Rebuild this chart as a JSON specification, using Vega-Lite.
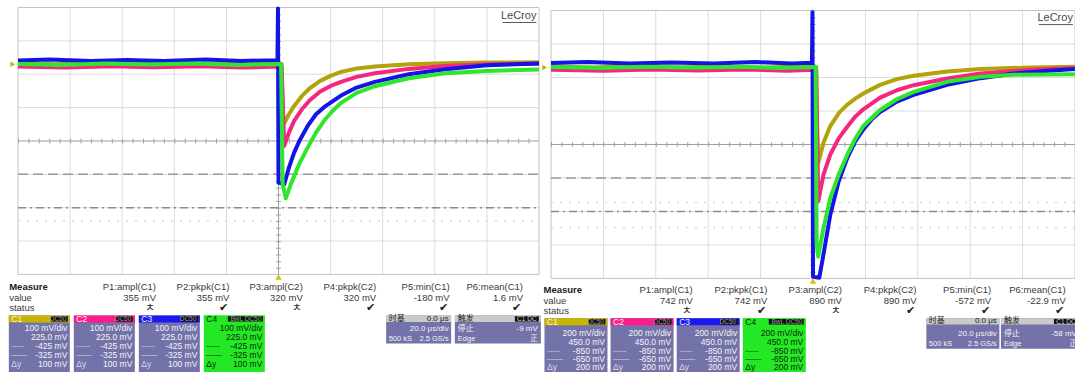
{
"$schema":"https://vega.github.io/schema/vega-lite/v6.json",
"background":"white",
"padding":{"left":8,"top":4.5,"right":0,"bottom":0},
"autosize":{"type":"pad"},
"bounds":"flush",
"spacing":12,
"config":{"view":{"stroke":null},"axis":{"disable":true},"legend":{"disable":true},"text":{"font":"Liberation Sans, Noto Sans CJK SC","fontSize":9.5,"color":"#3a3a3a"}},
"datasets":{
"one":[{"k":1}],
"brand":[{"b":"LeCroy"}],
"hdr":[{"a":"Measure","b":"value","c":"status"}],
"gridV":[{"g":-4},{"g":-3},{"g":-2},{"g":-1},{"g":1},{"g":2},{"g":3},{"g":4}],
"gridH":[{"g":-3},{"g":-2},{"g":-1},{"g":1},{"g":2},{"g":3}],
"curL":[{"v":-1,"k":"dash"},{"v":-2,"k":"dashdot"},{"v":-2.4,"k":"dot"}],
"curR":[{"v":-1,"k":"dash"},{"v":-2,"k":"dashdot"},{"v":-1.73,"k":"dot"},{"v":-2.48,"k":"dot"}],
"measL":[{"n":1,"p":"P1:ampl(C1)","v":"355 mV","s":"ㅊ"},{"n":2,"p":"P2:pkpk(C1)","v":"355 mV","s":"✔"},{"n":3,"p":"P3:ampl(C2)","v":"320 mV","s":"ㅊ"},{"n":4,"p":"P4:pkpk(C2)","v":"320 mV","s":"✔"},{"n":5,"p":"P5:min(C1)","v":"-180 mV","s":"✔"},{"n":6,"p":"P6:mean(C1)","v":"1.6 mV","s":"✔"}],
"measR":[{"n":1,"p":"P1:ampl(C1)","v":"742 mV","s":"ㅊ"},{"n":2,"p":"P2:pkpk(C1)","v":"742 mV","s":"✔"},{"n":3,"p":"P3:ampl(C2)","v":"890 mV","s":"ㅊ"},{"n":4,"p":"P4:pkpk(C2)","v":"890 mV","s":"✔"},{"n":5,"p":"P5:min(C1)","v":"-572 mV","s":"✔"},{"n":6,"p":"P6:mean(C1)","v":"-22.9 mV","s":"✔"}],
"chL":[{"n":1,"ch":"C1","cpl":"DC50","vdiv":"100 mV/div","offs":"225.0 mV","c1":"-425 mV","c2":"-325 mV","dy":"100 mV"},{"n":2,"ch":"C2","cpl":"DC50","vdiv":"100 mV/div","offs":"225.0 mV","c1":"-425 mV","c2":"-325 mV","dy":"100 mV"},{"n":3,"ch":"C3","cpl":"DC50","vdiv":"100 mV/div","offs":"225.0 mV","c1":"-425 mV","c2":"-325 mV","dy":"100 mV"},{"n":4,"ch":"C4","cpl":"BwL DC50","vdiv":"100 mV/div","offs":"225.0 mV","c1":"-425 mV","c2":"-325 mV","dy":"100 mV"}],
"chR":[{"n":1,"ch":"C1","cpl":"DC50","vdiv":"200 mV/div","offs":"450.0 mV","c1":"-850 mV","c2":"-650 mV","dy":"200 mV"},{"n":2,"ch":"C2","cpl":"DC50","vdiv":"200 mV/div","offs":"450.0 mV","c1":"-850 mV","c2":"-650 mV","dy":"200 mV"},{"n":3,"ch":"C3","cpl":"DC50","vdiv":"200 mV/div","offs":"450.0 mV","c1":"-850 mV","c2":"-650 mV","dy":"200 mV"},{"n":4,"ch":"C4","cpl":"BwL DC50","vdiv":"200 mV/div","offs":"450.0 mV","c1":"-850 mV","c2":"-650 mV","dy":"200 mV"}],
"acqL":[{"tb":"时基","dly":"0.0 μs","tdiv":"20.0 μs/div","pts":"500 kS","rate":"2.5 GS/s","trg":"触发","src":"C1 DC","mode":"停止","lvl":"-9 mV","typ":"Edge","slope":"正"}],
"acqR":[{"tb":"时基","dly":"0.0 μs","tdiv":"20.0 μs/div","pts":"500 kS","rate":"2.5 GS/s","trg":"触发","src":"C1 DC","mode":"停止","lvl":"-58 mV","typ":"Edge","slope":"正"}],
"trL":[
{"ch":"C1","t":-5,"v":2.33},{"ch":"C1","t":-4.3,"v":2.3},{"ch":"C1","t":-3.5,"v":2.34},{"ch":"C1","t":-2.8,"v":2.3},{"ch":"C1","t":-2.1,"v":2.33},{"ch":"C1","t":-1.3,"v":2.29},{"ch":"C1","t":-0.6,"v":2.33},{"ch":"C1","t":0.06,"v":2.31},{"ch":"C1","t":0.08,"v":0.8},{"ch":"C1","t":0.1,"v":0.5},{"ch":"C1","t":0.2,"v":0.8},{"ch":"C1","t":0.3,"v":1.05},{"ch":"C1","t":0.45,"v":1.35},{"ch":"C1","t":0.6,"v":1.58},{"ch":"C1","t":0.8,"v":1.8},{"ch":"C1","t":1.0,"v":1.95},{"ch":"C1","t":1.2,"v":2.07},{"ch":"C1","t":1.5,"v":2.17},{"ch":"C1","t":1.85,"v":2.23},{"ch":"C1","t":2.5,"v":2.3},{"ch":"C1","t":3.2,"v":2.33},{"ch":"C1","t":4.0,"v":2.35},{"ch":"C1","t":5.0,"v":2.36},
{"ch":"C2","t":-5,"v":2.23},{"ch":"C2","t":-4.1,"v":2.2},{"ch":"C2","t":-3.2,"v":2.24},{"ch":"C2","t":-2.4,"v":2.21},{"ch":"C2","t":-1.5,"v":2.24},{"ch":"C2","t":-0.7,"v":2.2},{"ch":"C2","t":0.06,"v":2.23},{"ch":"C2","t":0.11,"v":-0.15},{"ch":"C2","t":0.2,"v":0.25},{"ch":"C2","t":0.3,"v":0.6},{"ch":"C2","t":0.45,"v":0.95},{"ch":"C2","t":0.6,"v":1.22},{"ch":"C2","t":0.8,"v":1.48},{"ch":"C2","t":1.0,"v":1.65},{"ch":"C2","t":1.2,"v":1.77},{"ch":"C2","t":1.5,"v":1.92},{"ch":"C2","t":1.85,"v":2.03},{"ch":"C2","t":2.5,"v":2.16},{"ch":"C2","t":3.2,"v":2.25},{"ch":"C2","t":4.0,"v":2.3},{"ch":"C2","t":5.0,"v":2.32},
{"ch":"C3","t":-5,"v":2.41},{"ch":"C3","t":-4.4,"v":2.44},{"ch":"C3","t":-3.6,"v":2.4},{"ch":"C3","t":-2.9,"v":2.43},{"ch":"C3","t":-2.2,"v":2.4},{"ch":"C3","t":-1.4,"v":2.44},{"ch":"C3","t":-0.7,"v":2.4},{"ch":"C3","t":-0.02,"v":2.42},{"ch":"C3","t":-0.01,"v":3.97},{"ch":"C3","t":0.0,"v":-1.25},{"ch":"C3","t":0.11,"v":-1.3},{"ch":"C3","t":0.2,"v":-0.8},{"ch":"C3","t":0.3,"v":-0.35},{"ch":"C3","t":0.4,"v":0.0},{"ch":"C3","t":0.56,"v":0.45},{"ch":"C3","t":0.72,"v":0.8},{"ch":"C3","t":0.88,"v":1.02},{"ch":"C3","t":1.05,"v":1.2},{"ch":"C3","t":1.2,"v":1.36},{"ch":"C3","t":1.5,"v":1.6},{"ch":"C3","t":1.85,"v":1.77},{"ch":"C3","t":2.5,"v":2.0},{"ch":"C3","t":3.2,"v":2.15},{"ch":"C3","t":4.0,"v":2.27},{"ch":"C3","t":5.0,"v":2.32},
{"ch":"C4","t":-5,"v":2.31},{"ch":"C4","t":-4.2,"v":2.28},{"ch":"C4","t":-3.3,"v":2.32},{"ch":"C4","t":-2.5,"v":2.29},{"ch":"C4","t":-1.6,"v":2.32},{"ch":"C4","t":-0.8,"v":2.28},{"ch":"C4","t":0.05,"v":2.31},{"ch":"C4","t":0.08,"v":-1.3},{"ch":"C4","t":0.14,"v":-1.72},{"ch":"C4","t":0.24,"v":-1.28},{"ch":"C4","t":0.4,"v":-0.68},{"ch":"C4","t":0.56,"v":-0.2},{"ch":"C4","t":0.72,"v":0.25},{"ch":"C4","t":0.88,"v":0.62},{"ch":"C4","t":1.05,"v":0.92},{"ch":"C4","t":1.2,"v":1.14},{"ch":"C4","t":1.5,"v":1.44},{"ch":"C4","t":1.85,"v":1.64},{"ch":"C4","t":2.5,"v":1.88},{"ch":"C4","t":3.2,"v":2.03},{"ch":"C4","t":4.0,"v":2.1},{"ch":"C4","t":5.0,"v":2.14}],
"trR":[
{"ch":"C1","t":-5,"v":2.33},{"ch":"C1","t":-4.2,"v":2.3},{"ch":"C1","t":-3.4,"v":2.34},{"ch":"C1","t":-2.6,"v":2.3},{"ch":"C1","t":-1.8,"v":2.33},{"ch":"C1","t":-1.0,"v":2.29},{"ch":"C1","t":-0.3,"v":2.33},{"ch":"C1","t":0.06,"v":2.31},{"ch":"C1","t":0.08,"v":0.4},{"ch":"C1","t":0.1,"v":-0.55},{"ch":"C1","t":0.2,"v":0.05},{"ch":"C1","t":0.33,"v":0.55},{"ch":"C1","t":0.5,"v":0.95},{"ch":"C1","t":0.65,"v":1.18},{"ch":"C1","t":0.8,"v":1.36},{"ch":"C1","t":0.96,"v":1.52},{"ch":"C1","t":1.28,"v":1.78},{"ch":"C1","t":1.6,"v":1.95},{"ch":"C1","t":1.92,"v":2.05},{"ch":"C1","t":2.56,"v":2.18},{"ch":"C1","t":3.2,"v":2.25},{"ch":"C1","t":4.16,"v":2.3},{"ch":"C1","t":5,"v":2.32},
{"ch":"C2","t":-5,"v":2.23},{"ch":"C2","t":-4,"v":2.2},{"ch":"C2","t":-3.1,"v":2.24},{"ch":"C2","t":-2.2,"v":2.21},{"ch":"C2","t":-1.3,"v":2.24},{"ch":"C2","t":-0.5,"v":2.2},{"ch":"C2","t":0.06,"v":2.23},{"ch":"C2","t":0.1,"v":-1.7},{"ch":"C2","t":0.2,"v":-0.9},{"ch":"C2","t":0.33,"v":-0.3},{"ch":"C2","t":0.49,"v":0.18},{"ch":"C2","t":0.65,"v":0.52},{"ch":"C2","t":0.8,"v":0.82},{"ch":"C2","t":0.96,"v":1.05},{"ch":"C2","t":1.28,"v":1.4},{"ch":"C2","t":1.6,"v":1.62},{"ch":"C2","t":1.92,"v":1.77},{"ch":"C2","t":2.56,"v":1.97},{"ch":"C2","t":3.2,"v":2.12},{"ch":"C2","t":4.16,"v":2.23},{"ch":"C2","t":5,"v":2.28},
{"ch":"C3","t":-5,"v":2.43},{"ch":"C3","t":-4.3,"v":2.46},{"ch":"C3","t":-3.5,"v":2.42},{"ch":"C3","t":-2.7,"v":2.45},{"ch":"C3","t":-1.9,"v":2.42},{"ch":"C3","t":-1.1,"v":2.46},{"ch":"C3","t":-0.4,"v":2.42},{"ch":"C3","t":-0.02,"v":2.44},{"ch":"C3","t":-0.01,"v":3.95},{"ch":"C3","t":0.0,"v":-3.95},{"ch":"C3","t":0.12,"v":-3.98},{"ch":"C3","t":0.2,"v":-3.28},{"ch":"C3","t":0.33,"v":-2.1},{"ch":"C3","t":0.49,"v":-1.1},{"ch":"C3","t":0.65,"v":-0.42},{"ch":"C3","t":0.8,"v":0.08},{"ch":"C3","t":0.96,"v":0.45},{"ch":"C3","t":1.12,"v":0.75},{"ch":"C3","t":1.28,"v":0.97},{"ch":"C3","t":1.6,"v":1.28},{"ch":"C3","t":1.92,"v":1.48},{"ch":"C3","t":2.56,"v":1.78},{"ch":"C3","t":3.2,"v":1.98},{"ch":"C3","t":3.84,"v":2.12},{"ch":"C3","t":4.5,"v":2.2},{"ch":"C3","t":5,"v":2.25},
{"ch":"C4","t":-5,"v":2.31},{"ch":"C4","t":-4.1,"v":2.28},{"ch":"C4","t":-3.2,"v":2.32},{"ch":"C4","t":-2.3,"v":2.29},{"ch":"C4","t":-1.4,"v":2.32},{"ch":"C4","t":-0.6,"v":2.28},{"ch":"C4","t":0.05,"v":2.31},{"ch":"C4","t":0.07,"v":-3.0},{"ch":"C4","t":0.1,"v":-3.35},{"ch":"C4","t":0.2,"v":-2.5},{"ch":"C4","t":0.33,"v":-1.6},{"ch":"C4","t":0.49,"v":-0.9},{"ch":"C4","t":0.65,"v":-0.32},{"ch":"C4","t":0.8,"v":0.15},{"ch":"C4","t":0.96,"v":0.55},{"ch":"C4","t":1.28,"v":1.03},{"ch":"C4","t":1.6,"v":1.35},{"ch":"C4","t":1.92,"v":1.57},{"ch":"C4","t":2.56,"v":1.87},{"ch":"C4","t":3.2,"v":2.02},{"ch":"C4","t":3.84,"v":2.08},{"ch":"C4","t":5,"v":2.1}]
},
"hconcat":[
{
"width":521,"height":365,
"resolve":{"scale":{"x":"independent","color":"independent","strokeDash":"independent"}},
"layer":[
{"data":{"name":"gridV"},"mark":{"type":"rule","color":"#dcdcdc","strokeWidth":1},"encoding":{"x":{"field":"g","type":"quantitative","scale":{"domain":[-5,5]}},"y":{"datum":-4,"scale":{"domain":[-6.94,4]}},"y2":{"datum":4}}},
{"data":{"name":"gridH"},"mark":{"type":"rule","color":"#dcdcdc","strokeWidth":1},"encoding":{"y":{"field":"g","type":"quantitative","scale":{"domain":[-6.94,4]}},"x":{"datum":-5,"scale":{"domain":[-5,5]}},"x2":{"datum":5}}},
{"data":{"name":"one"},"mark":{"type":"rect","fill":"transparent","stroke":"#c4c4c4","strokeWidth":1},"encoding":{"x":{"datum":-5,"scale":{"domain":[-5,5]}},"x2":{"datum":5},"y":{"datum":-4,"scale":{"domain":[-6.94,4]}},"y2":{"datum":4}}},
{"data":{"name":"one"},"mark":{"type":"rule","color":"#9c9c9c","strokeWidth":1},"encoding":{"x":{"datum":-5,"scale":{"domain":[-5,5]}},"x2":{"datum":5},"y":{"datum":0,"scale":{"domain":[-6.94,4]}}}},
{"data":{"name":"one"},"mark":{"type":"rule","color":"#a4a4a4","strokeWidth":5,"strokeDash":[1,9.42]},"encoding":{"x":{"datum":-5,"scale":{"domain":[-5,5]}},"x2":{"datum":5},"y":{"datum":0,"scale":{"domain":[-6.94,4]}}}},
{"data":{"name":"one"},"mark":{"type":"rule","color":"#9c9c9c","strokeWidth":1},"encoding":{"x":{"datum":0,"scale":{"domain":[-5,5]}},"y":{"datum":4,"scale":{"domain":[-6.94,4]}},"y2":{"datum":-4}}},
{"data":{"name":"one"},"mark":{"type":"rule","color":"#a4a4a4","strokeWidth":5,"strokeDash":[1,5.675]},"encoding":{"x":{"datum":0,"scale":{"domain":[-5,5]}},"y":{"datum":4,"scale":{"domain":[-6.94,4]}},"y2":{"datum":-4}}},
{"data":{"name":"curL"},"mark":{"type":"rule","strokeWidth":1.5},"encoding":{"y":{"field":"v","type":"quantitative","scale":{"domain":[-6.94,4]}},"x":{"datum":-5,"scale":{"domain":[-5,5]}},"x2":{"datum":5},"strokeDash":{"field":"k","type":"nominal","scale":{"domain":["dash","dashdot","dot"],"range":[[10,5],[8,4,2,4],[2,7]]},"legend":null},"color":{"field":"k","type":"nominal","scale":{"domain":["dash","dashdot","dot"],"range":["#9a9a9a","#8c8c8c","#d8d8d8"]},"legend":null}}},
{"data":{"name":"trL"},"mark":{"type":"line","strokeWidth":4,"strokeJoin":"round"},"encoding":{"x":{"field":"t","type":"quantitative","scale":{"domain":[-5,5]}},"y":{"field":"v","type":"quantitative","scale":{"domain":[-6.94,4]}},"color":{"field":"ch","type":"nominal","scale":{"domain":["C1","C2","C3","C4"],"range":["#b3a30a","#f5267f","#1414e8","#2ee62e"]},"legend":null}}},
{"data":{"name":"one"},"mark":{"type":"point","shape":"triangle-up","filled":true,"color":"#d4bf00","size":40,"opacity":1},"encoding":{"x":{"datum":0,"scale":{"domain":[-5,5]}},"y":{"datum":-4.08,"scale":{"domain":[-6.94,4]}}}},
{"data":{"name":"one"},"mark":{"type":"point","shape":"triangle-right","filled":true,"color":"#c8b000","size":30,"opacity":1},"encoding":{"x":{"datum":-5.1,"scale":{"domain":[-5,5]}},"y":{"datum":2.3,"scale":{"domain":[-6.94,4]}}}},
{"data":{"name":"brand"},"mark":{"type":"text","align":"right","baseline":"middle","fontSize":11,"color":"#4a4a4a"},"encoding":{"x":{"datum":4.95,"scale":{"domain":[-5,5]}},"y":{"datum":3.76,"scale":{"domain":[-6.94,4]}},"text":{"field":"b"}}},
{"data":{"name":"one"},"mark":{"type":"rule","color":"#5a5a5a","strokeWidth":1},"encoding":{"x":{"datum":4.3,"scale":{"domain":[-5,5]}},"x2":{"datum":4.95},"y":{"datum":3.55,"scale":{"domain":[-6.94,4]}}}},
{"data":{"name":"hdr"},"mark":{"type":"text","align":"left","baseline":"middle","fontWeight":"bold","color":"#202020"},"encoding":{"x":{"datum":-1,"scale":{"domain":[-0.88,6.218]}},"y":{"datum":-4.38,"scale":{"domain":[-6.94,4]}},"text":{"field":"a"}}},
{"data":{"name":"hdr"},"mark":{"type":"text","align":"left","baseline":"middle"},"encoding":{"x":{"datum":-1,"scale":{"domain":[-0.88,6.218]}},"y":{"datum":-4.71,"scale":{"domain":[-6.94,4]}},"text":{"field":"b"}}},
{"data":{"name":"hdr"},"mark":{"type":"text","align":"left","baseline":"middle"},"encoding":{"x":{"datum":-1,"scale":{"domain":[-0.88,6.218]}},"y":{"datum":-5.02,"scale":{"domain":[-6.94,4]}},"text":{"field":"c"}}},
{"data":{"name":"measL"},"mark":{"type":"text","align":"right","baseline":"middle"},"encoding":{"x":{"field":"n","type":"quantitative","scale":{"domain":[-0.88,6.218]}},"y":{"datum":-4.38,"scale":{"domain":[-6.94,4]}},"text":{"field":"p"}}},
{"data":{"name":"measL"},"mark":{"type":"text","align":"right","baseline":"middle"},"encoding":{"x":{"field":"n","type":"quantitative","scale":{"domain":[-0.88,6.218]}},"y":{"datum":-4.71,"scale":{"domain":[-6.94,4]}},"text":{"field":"v"}}},
{"data":{"name":"measL"},"mark":{"type":"text","align":"center","baseline":"middle","dx":-6,"fontSize":10.5,"color":"#222222"},"encoding":{"x":{"field":"n","type":"quantitative","scale":{"domain":[-0.88,6.218]}},"y":{"datum":-5.02,"scale":{"domain":[-6.94,4]}},"text":{"field":"s"}}},
{"data":{"name":"chL"},"mark":{"type":"rect","width":61},"encoding":{"x":{"field":"n","type":"quantitative","scale":{"domain":[0.672,8.687]}},"y":{"datum":-5.23,"scale":{"domain":[-6.94,4]}},"y2":{"datum":-7.3},"color":{"field":"ch","type":"nominal","scale":{"domain":["C1","C2","C3","C4"],"range":["#7373a9","#7373a9","#7373a9","#24e824"]},"legend":null}}},
{"data":{"name":"chL"},"mark":{"type":"rect","width":61},"encoding":{"x":{"field":"n","type":"quantitative","scale":{"domain":[0.672,8.687]}},"y":{"datum":-5.23,"scale":{"domain":[-6.94,4]}},"y2":{"datum":-5.44},"color":{"field":"ch","type":"nominal","scale":{"domain":["C1","C2","C3","C4"],"range":["#c9b500","#ff1a8c","#1a1af0","#24e824"]},"legend":null}}},
{"data":{"name":"chL"},"transform":[{"filter":"datum.ch !== 'C4'"}],"mark":{"type":"rect","width":17,"xOffset":20,"color":"#111111"},"encoding":{"x":{"field":"n","type":"quantitative","scale":{"domain":[0.672,8.687]}},"y":{"datum":-5.255,"scale":{"domain":[-6.94,4]}},"y2":{"datum":-5.415}}},
{"data":{"name":"chL"},"transform":[{"filter":"datum.ch === 'C4'"}],"mark":{"type":"rect","width":35,"xOffset":11,"color":"#111111"},"encoding":{"x":{"field":"n","type":"quantitative","scale":{"domain":[0.672,8.687]}},"y":{"datum":-5.255,"scale":{"domain":[-6.94,4]}},"y2":{"datum":-5.415}}},
{"data":{"name":"chL"},"mark":{"type":"text","align":"right","baseline":"middle","dx":27,"fontSize":6.5,"color":"#9a9a9a"},"encoding":{"x":{"field":"n","type":"quantitative","scale":{"domain":[0.672,8.687]}},"y":{"datum":-5.335,"scale":{"domain":[-6.94,4]}},"text":{"field":"cpl"}}},
{"data":{"name":"chL"},"mark":{"type":"text","align":"left","baseline":"middle","dx":-28,"fontSize":8.5},"encoding":{"x":{"field":"n","type":"quantitative","scale":{"domain":[0.672,8.687]}},"y":{"datum":-5.335,"scale":{"domain":[-6.94,4]}},"text":{"field":"ch"},"color":{"field":"ch","type":"nominal","scale":{"domain":["C1","C2","C3","C4"],"range":["#f4f4f4","#f4f4f4","#f4f4f4","#0a2a0a"]},"legend":null}}},
{"data":{"name":"chL"},"mark":{"type":"text","align":"right","baseline":"middle","dx":28,"fontSize":8.5},"encoding":{"x":{"field":"n","type":"quantitative","scale":{"domain":[0.672,8.687]}},"y":{"datum":-5.61,"scale":{"domain":[-6.94,4]}},"text":{"field":"vdiv"},"color":{"field":"ch","type":"nominal","scale":{"domain":["C1","C2","C3","C4"],"range":["#f4f4f4","#f4f4f4","#f4f4f4","#0a2a0a"]},"legend":null}}},
{"data":{"name":"chL"},"mark":{"type":"text","align":"right","baseline":"middle","dx":28,"fontSize":8.5},"encoding":{"x":{"field":"n","type":"quantitative","scale":{"domain":[0.672,8.687]}},"y":{"datum":-5.89,"scale":{"domain":[-6.94,4]}},"text":{"field":"offs"},"color":{"field":"ch","type":"nominal","scale":{"domain":["C1","C2","C3","C4"],"range":["#f4f4f4","#f4f4f4","#f4f4f4","#0a2a0a"]},"legend":null}}},
{"data":{"name":"chL"},"mark":{"type":"text","align":"right","baseline":"middle","dx":28,"fontSize":8.5},"encoding":{"x":{"field":"n","type":"quantitative","scale":{"domain":[0.672,8.687]}},"y":{"datum":-6.16,"scale":{"domain":[-6.94,4]}},"text":{"field":"c1"},"color":{"field":"ch","type":"nominal","scale":{"domain":["C1","C2","C3","C4"],"range":["#f4f4f4","#f4f4f4","#f4f4f4","#0a2a0a"]},"legend":null}}},
{"data":{"name":"chL"},"mark":{"type":"text","align":"right","baseline":"middle","dx":28,"fontSize":8.5},"encoding":{"x":{"field":"n","type":"quantitative","scale":{"domain":[0.672,8.687]}},"y":{"datum":-6.43,"scale":{"domain":[-6.94,4]}},"text":{"field":"c2"},"color":{"field":"ch","type":"nominal","scale":{"domain":["C1","C2","C3","C4"],"range":["#f4f4f4","#f4f4f4","#f4f4f4","#0a2a0a"]},"legend":null}}},
{"data":{"name":"chL"},"mark":{"type":"text","align":"right","baseline":"middle","dx":28,"fontSize":8.5},"encoding":{"x":{"field":"n","type":"quantitative","scale":{"domain":[0.672,8.687]}},"y":{"datum":-6.7,"scale":{"domain":[-6.94,4]}},"text":{"field":"dy"},"color":{"field":"ch","type":"nominal","scale":{"domain":["C1","C2","C3","C4"],"range":["#f4f4f4","#f4f4f4","#f4f4f4","#0a2a0a"]},"legend":null}}},
{"data":{"name":"chL"},"mark":{"type":"text","align":"left","baseline":"middle","dx":-28,"fontSize":8},"encoding":{"x":{"field":"n","type":"quantitative","scale":{"domain":[0.672,8.687]}},"y":{"datum":-6.16,"scale":{"domain":[-6.94,4]}},"text":{"value":"-----"},"color":{"field":"ch","type":"nominal","scale":{"domain":["C1","C2","C3","C4"],"range":["#d8d8e8","#d8d8e8","#d8d8e8","#0a2a0a"]},"legend":null}}},
{"data":{"name":"chL"},"mark":{"type":"text","align":"left","baseline":"middle","dx":-28,"fontSize":8},"encoding":{"x":{"field":"n","type":"quantitative","scale":{"domain":[0.672,8.687]}},"y":{"datum":-6.43,"scale":{"domain":[-6.94,4]}},"text":{"value":"——"},"color":{"field":"ch","type":"nominal","scale":{"domain":["C1","C2","C3","C4"],"range":["#d8d8e8","#d8d8e8","#d8d8e8","#0a2a0a"]},"legend":null}}},
{"data":{"name":"chL"},"mark":{"type":"text","align":"left","baseline":"middle","dx":-28,"fontSize":8.5},"encoding":{"x":{"field":"n","type":"quantitative","scale":{"domain":[0.672,8.687]}},"y":{"datum":-6.7,"scale":{"domain":[-6.94,4]}},"text":{"value":"Δy"},"color":{"field":"ch","type":"nominal","scale":{"domain":["C1","C2","C3","C4"],"range":["#d8d8e8","#d8d8e8","#d8d8e8","#0a2a0a"]},"legend":null}}},
{"data":{"name":"acqL"},"mark":{"type":"rect","width":65,"color":"#7373a9"},"encoding":{"x":{"datum":2.69,"scale":{"domain":[-5,5]}},"y":{"datum":-5.23,"scale":{"domain":[-6.94,4]}},"y2":{"datum":-6.07}}},
{"data":{"name":"acqL"},"mark":{"type":"rect","width":65,"color":"#cacaca"},"encoding":{"x":{"datum":2.69,"scale":{"domain":[-5,5]}},"y":{"datum":-5.23,"scale":{"domain":[-6.94,4]}},"y2":{"datum":-5.43}}},
{"data":{"name":"acqL"},"mark":{"type":"text","align":"left","baseline":"middle","dx":-30,"fontSize":8,"color":"#1a1a1a"},"encoding":{"x":{"datum":2.69,"scale":{"domain":[-5,5]}},"y":{"datum":-5.33,"scale":{"domain":[-6.94,4]}},"text":{"field":"tb"}}},
{"data":{"name":"acqL"},"mark":{"type":"text","align":"right","baseline":"middle","dx":30,"fontSize":8,"color":"#1a1a1a"},"encoding":{"x":{"datum":2.69,"scale":{"domain":[-5,5]}},"y":{"datum":-5.33,"scale":{"domain":[-6.94,4]}},"text":{"field":"dly"}}},
{"data":{"name":"acqL"},"mark":{"type":"text","align":"right","baseline":"middle","dx":30,"fontSize":8,"color":"#f4f4f4"},"encoding":{"x":{"datum":2.69,"scale":{"domain":[-5,5]}},"y":{"datum":-5.65,"scale":{"domain":[-6.94,4]}},"text":{"field":"tdiv"}}},
{"data":{"name":"acqL"},"mark":{"type":"text","align":"left","baseline":"middle","dx":-30,"fontSize":7.5,"color":"#f4f4f4"},"encoding":{"x":{"datum":2.69,"scale":{"domain":[-5,5]}},"y":{"datum":-5.93,"scale":{"domain":[-6.94,4]}},"text":{"field":"pts"}}},
{"data":{"name":"acqL"},"mark":{"type":"text","align":"right","baseline":"middle","dx":30,"fontSize":7.5,"color":"#f4f4f4"},"encoding":{"x":{"datum":2.69,"scale":{"domain":[-5,5]}},"y":{"datum":-5.93,"scale":{"domain":[-6.94,4]}},"text":{"field":"rate"}}},
{"data":{"name":"acqL"},"mark":{"type":"rect","width":86,"color":"#7373a9"},"encoding":{"x":{"datum":4.21,"scale":{"domain":[-5,5]}},"y":{"datum":-5.23,"scale":{"domain":[-6.94,4]}},"y2":{"datum":-6.07}}},
{"data":{"name":"acqL"},"mark":{"type":"rect","width":86,"color":"#cacaca"},"encoding":{"x":{"datum":4.21,"scale":{"domain":[-5,5]}},"y":{"datum":-5.23,"scale":{"domain":[-6.94,4]}},"y2":{"datum":-5.43}}},
{"data":{"name":"acqL"},"mark":{"type":"rect","width":24,"xOffset":29,"color":"#111111"},"encoding":{"x":{"datum":4.21,"scale":{"domain":[-5,5]}},"y":{"datum":-5.255,"scale":{"domain":[-6.94,4]}},"y2":{"datum":-5.415}}},
{"data":{"name":"acqL"},"mark":{"type":"text","align":"left","baseline":"middle","dx":-40,"fontSize":8,"color":"#1a1a1a"},"encoding":{"x":{"datum":4.21,"scale":{"domain":[-5,5]}},"y":{"datum":-5.33,"scale":{"domain":[-6.94,4]}},"text":{"field":"trg"}}},
{"data":{"name":"acqL"},"mark":{"type":"text","align":"center","baseline":"middle","dx":29,"fontSize":6.5,"color":"#d0d0d0"},"encoding":{"x":{"datum":4.21,"scale":{"domain":[-5,5]}},"y":{"datum":-5.335,"scale":{"domain":[-6.94,4]}},"text":{"field":"src"}}},
{"data":{"name":"acqL"},"mark":{"type":"text","align":"left","baseline":"middle","dx":-40,"fontSize":8,"color":"#f4f4f4"},"encoding":{"x":{"datum":4.21,"scale":{"domain":[-5,5]}},"y":{"datum":-5.65,"scale":{"domain":[-6.94,4]}},"text":{"field":"mode"}}},
{"data":{"name":"acqL"},"mark":{"type":"text","align":"right","baseline":"middle","dx":40,"fontSize":8,"color":"#f4f4f4"},"encoding":{"x":{"datum":4.21,"scale":{"domain":[-5,5]}},"y":{"datum":-5.65,"scale":{"domain":[-6.94,4]}},"text":{"field":"lvl"}}},
{"data":{"name":"acqL"},"mark":{"type":"text","align":"left","baseline":"middle","dx":-40,"fontSize":7.5,"color":"#f4f4f4"},"encoding":{"x":{"datum":4.21,"scale":{"domain":[-5,5]}},"y":{"datum":-5.93,"scale":{"domain":[-6.94,4]}},"text":{"field":"typ"}}},
{"data":{"name":"acqL"},"mark":{"type":"text","align":"right","baseline":"middle","dx":40,"fontSize":7.5,"color":"#f4f4f4"},"encoding":{"x":{"datum":4.21,"scale":{"domain":[-5,5]}},"y":{"datum":-5.93,"scale":{"domain":[-6.94,4]}},"text":{"field":"slope"}}}
]
},
{
"width":524,"height":365,
"resolve":{"scale":{"x":"independent","color":"independent","strokeDash":"independent"}},
"layer":[
{"data":{"name":"gridV"},"mark":{"type":"rule","color":"#dcdcdc","strokeWidth":1},"encoding":{"x":{"field":"g","type":"quantitative","scale":{"domain":[-5,5]}},"y":{"datum":-4,"scale":{"domain":[-6.81,4.09]}},"y2":{"datum":4}}},
{"data":{"name":"gridH"},"mark":{"type":"rule","color":"#dcdcdc","strokeWidth":1},"encoding":{"y":{"field":"g","type":"quantitative","scale":{"domain":[-6.81,4.09]}},"x":{"datum":-5,"scale":{"domain":[-5,5]}},"x2":{"datum":5}}},
{"data":{"name":"one"},"mark":{"type":"rect","fill":"transparent","stroke":"#c4c4c4","strokeWidth":1},"encoding":{"x":{"datum":-5,"scale":{"domain":[-5,5]}},"x2":{"datum":5},"y":{"datum":-4,"scale":{"domain":[-6.81,4.09]}},"y2":{"datum":4}}},
{"data":{"name":"one"},"mark":{"type":"rule","color":"#9c9c9c","strokeWidth":1},"encoding":{"x":{"datum":-5,"scale":{"domain":[-5,5]}},"x2":{"datum":5},"y":{"datum":0,"scale":{"domain":[-6.81,4.09]}}}},
{"data":{"name":"one"},"mark":{"type":"rule","color":"#a4a4a4","strokeWidth":5,"strokeDash":[1,9.48]},"encoding":{"x":{"datum":-5,"scale":{"domain":[-5,5]}},"x2":{"datum":5},"y":{"datum":0,"scale":{"domain":[-6.81,4.09]}}}},
{"data":{"name":"one"},"mark":{"type":"rule","color":"#9c9c9c","strokeWidth":1},"encoding":{"x":{"datum":0,"scale":{"domain":[-5,5]}},"y":{"datum":4,"scale":{"domain":[-6.81,4.09]}},"y2":{"datum":-4}}},
{"data":{"name":"one"},"mark":{"type":"rule","color":"#a4a4a4","strokeWidth":5,"strokeDash":[1,5.7]},"encoding":{"x":{"datum":0,"scale":{"domain":[-5,5]}},"y":{"datum":4,"scale":{"domain":[-6.81,4.09]}},"y2":{"datum":-4}}},
{"data":{"name":"curR"},"mark":{"type":"rule","strokeWidth":1.5},"encoding":{"y":{"field":"v","type":"quantitative","scale":{"domain":[-6.81,4.09]}},"x":{"datum":-5,"scale":{"domain":[-5,5]}},"x2":{"datum":5},"strokeDash":{"field":"k","type":"nominal","scale":{"domain":["dash","dashdot","dot"],"range":[[10,5],[8,4,2,4],[2,7]]},"legend":null},"color":{"field":"k","type":"nominal","scale":{"domain":["dash","dashdot","dot"],"range":["#9a9a9a","#8c8c8c","#d8d8d8"]},"legend":null}}},
{"data":{"name":"trR"},"mark":{"type":"line","strokeWidth":4,"strokeJoin":"round"},"encoding":{"x":{"field":"t","type":"quantitative","scale":{"domain":[-5,5]}},"y":{"field":"v","type":"quantitative","scale":{"domain":[-6.81,4.09]}},"color":{"field":"ch","type":"nominal","scale":{"domain":["C1","C2","C3","C4"],"range":["#b3a30a","#f5267f","#1414e8","#2ee62e"]},"legend":null}}},
{"data":{"name":"one"},"mark":{"type":"point","shape":"triangle-up","filled":true,"color":"#d4bf00","size":40,"opacity":1},"encoding":{"x":{"datum":0,"scale":{"domain":[-5,5]}},"y":{"datum":-4.08,"scale":{"domain":[-6.81,4.09]}}}},
{"data":{"name":"one"},"mark":{"type":"point","shape":"triangle-right","filled":true,"color":"#c8b000","size":30,"opacity":1},"encoding":{"x":{"datum":-5.12,"scale":{"domain":[-5,5]}},"y":{"datum":2.3,"scale":{"domain":[-6.81,4.09]}}}},
{"data":{"name":"brand"},"mark":{"type":"text","align":"right","baseline":"middle","fontSize":11,"color":"#4a4a4a"},"encoding":{"x":{"datum":4.96,"scale":{"domain":[-5,5]}},"y":{"datum":3.79,"scale":{"domain":[-6.81,4.09]}},"text":{"field":"b"}}},
{"data":{"name":"one"},"mark":{"type":"rule","color":"#5a5a5a","strokeWidth":1},"encoding":{"x":{"datum":4.31,"scale":{"domain":[-5,5]}},"x2":{"datum":4.96},"y":{"datum":3.58,"scale":{"domain":[-6.81,4.09]}}}},
{"data":{"name":"hdr"},"mark":{"type":"text","align":"left","baseline":"middle","fontWeight":"bold","color":"#202020"},"encoding":{"x":{"datum":-1,"scale":{"domain":[-0.9,6.124]}},"y":{"datum":-4.36,"scale":{"domain":[-6.81,4.09]}},"text":{"field":"a"}}},
{"data":{"name":"hdr"},"mark":{"type":"text","align":"left","baseline":"middle"},"encoding":{"x":{"datum":-1,"scale":{"domain":[-0.9,6.124]}},"y":{"datum":-4.66,"scale":{"domain":[-6.81,4.09]}},"text":{"field":"b"}}},
{"data":{"name":"hdr"},"mark":{"type":"text","align":"left","baseline":"middle"},"encoding":{"x":{"datum":-1,"scale":{"domain":[-0.9,6.124]}},"y":{"datum":-4.96,"scale":{"domain":[-6.81,4.09]}},"text":{"field":"c"}}},
{"data":{"name":"measR"},"mark":{"type":"text","align":"right","baseline":"middle"},"encoding":{"x":{"field":"n","type":"quantitative","scale":{"domain":[-0.9,6.124]}},"y":{"datum":-4.36,"scale":{"domain":[-6.81,4.09]}},"text":{"field":"p"}}},
{"data":{"name":"measR"},"mark":{"type":"text","align":"right","baseline":"middle"},"encoding":{"x":{"field":"n","type":"quantitative","scale":{"domain":[-0.9,6.124]}},"y":{"datum":-4.66,"scale":{"domain":[-6.81,4.09]}},"text":{"field":"v"}}},
{"data":{"name":"measR"},"mark":{"type":"text","align":"center","baseline":"middle","dx":-6,"fontSize":10.5,"color":"#222222"},"encoding":{"x":{"field":"n","type":"quantitative","scale":{"domain":[-0.9,6.124]}},"y":{"datum":-4.96,"scale":{"domain":[-6.81,4.09]}},"text":{"field":"s"}}},
{"data":{"name":"chR"},"mark":{"type":"rect","width":63},"encoding":{"x":{"field":"n","type":"quantitative","scale":{"domain":[0.622,8.549]}},"y":{"datum":-5.19,"scale":{"domain":[-6.81,4.09]}},"y2":{"datum":-7.2},"color":{"field":"ch","type":"nominal","scale":{"domain":["C1","C2","C3","C4"],"range":["#7373a9","#7373a9","#7373a9","#24e824"]},"legend":null}}},
{"data":{"name":"chR"},"mark":{"type":"rect","width":63},"encoding":{"x":{"field":"n","type":"quantitative","scale":{"domain":[0.622,8.549]}},"y":{"datum":-5.19,"scale":{"domain":[-6.81,4.09]}},"y2":{"datum":-5.4},"color":{"field":"ch","type":"nominal","scale":{"domain":["C1","C2","C3","C4"],"range":["#c9b500","#ff1a8c","#1a1af0","#24e824"]},"legend":null}}},
{"data":{"name":"chR"},"transform":[{"filter":"datum.ch !== 'C4'"}],"mark":{"type":"rect","width":17,"xOffset":21,"color":"#111111"},"encoding":{"x":{"field":"n","type":"quantitative","scale":{"domain":[0.622,8.549]}},"y":{"datum":-5.215,"scale":{"domain":[-6.81,4.09]}},"y2":{"datum":-5.375}}},
{"data":{"name":"chR"},"transform":[{"filter":"datum.ch === 'C4'"}],"mark":{"type":"rect","width":35,"xOffset":12,"color":"#111111"},"encoding":{"x":{"field":"n","type":"quantitative","scale":{"domain":[0.622,8.549]}},"y":{"datum":-5.215,"scale":{"domain":[-6.81,4.09]}},"y2":{"datum":-5.375}}},
{"data":{"name":"chR"},"mark":{"type":"text","align":"right","baseline":"middle","dx":28,"fontSize":6.5,"color":"#9a9a9a"},"encoding":{"x":{"field":"n","type":"quantitative","scale":{"domain":[0.622,8.549]}},"y":{"datum":-5.295,"scale":{"domain":[-6.81,4.09]}},"text":{"field":"cpl"}}},
{"data":{"name":"chR"},"mark":{"type":"text","align":"left","baseline":"middle","dx":-29,"fontSize":8.5},"encoding":{"x":{"field":"n","type":"quantitative","scale":{"domain":[0.622,8.549]}},"y":{"datum":-5.295,"scale":{"domain":[-6.81,4.09]}},"text":{"field":"ch"},"color":{"field":"ch","type":"nominal","scale":{"domain":["C1","C2","C3","C4"],"range":["#f4f4f4","#f4f4f4","#f4f4f4","#0a2a0a"]},"legend":null}}},
{"data":{"name":"chR"},"mark":{"type":"text","align":"right","baseline":"middle","dx":29,"fontSize":8.5},"encoding":{"x":{"field":"n","type":"quantitative","scale":{"domain":[0.622,8.549]}},"y":{"datum":-5.64,"scale":{"domain":[-6.81,4.09]}},"text":{"field":"vdiv"},"color":{"field":"ch","type":"nominal","scale":{"domain":["C1","C2","C3","C4"],"range":["#f4f4f4","#f4f4f4","#f4f4f4","#0a2a0a"]},"legend":null}}},
{"data":{"name":"chR"},"mark":{"type":"text","align":"right","baseline":"middle","dx":29,"fontSize":8.5},"encoding":{"x":{"field":"n","type":"quantitative","scale":{"domain":[0.622,8.549]}},"y":{"datum":-5.91,"scale":{"domain":[-6.81,4.09]}},"text":{"field":"offs"},"color":{"field":"ch","type":"nominal","scale":{"domain":["C1","C2","C3","C4"],"range":["#f4f4f4","#f4f4f4","#f4f4f4","#0a2a0a"]},"legend":null}}},
{"data":{"name":"chR"},"mark":{"type":"text","align":"right","baseline":"middle","dx":29,"fontSize":8.5},"encoding":{"x":{"field":"n","type":"quantitative","scale":{"domain":[0.622,8.549]}},"y":{"datum":-6.17,"scale":{"domain":[-6.81,4.09]}},"text":{"field":"c1"},"color":{"field":"ch","type":"nominal","scale":{"domain":["C1","C2","C3","C4"],"range":["#f4f4f4","#f4f4f4","#f4f4f4","#0a2a0a"]},"legend":null}}},
{"data":{"name":"chR"},"mark":{"type":"text","align":"right","baseline":"middle","dx":29,"fontSize":8.5},"encoding":{"x":{"field":"n","type":"quantitative","scale":{"domain":[0.622,8.549]}},"y":{"datum":-6.42,"scale":{"domain":[-6.81,4.09]}},"text":{"field":"c2"},"color":{"field":"ch","type":"nominal","scale":{"domain":["C1","C2","C3","C4"],"range":["#f4f4f4","#f4f4f4","#f4f4f4","#0a2a0a"]},"legend":null}}},
{"data":{"name":"chR"},"mark":{"type":"text","align":"right","baseline":"middle","dx":29,"fontSize":8.5},"encoding":{"x":{"field":"n","type":"quantitative","scale":{"domain":[0.622,8.549]}},"y":{"datum":-6.66,"scale":{"domain":[-6.81,4.09]}},"text":{"field":"dy"},"color":{"field":"ch","type":"nominal","scale":{"domain":["C1","C2","C3","C4"],"range":["#f4f4f4","#f4f4f4","#f4f4f4","#0a2a0a"]},"legend":null}}},
{"data":{"name":"chR"},"mark":{"type":"text","align":"left","baseline":"middle","dx":-29,"fontSize":8},"encoding":{"x":{"field":"n","type":"quantitative","scale":{"domain":[0.622,8.549]}},"y":{"datum":-6.17,"scale":{"domain":[-6.81,4.09]}},"text":{"value":"-----"},"color":{"field":"ch","type":"nominal","scale":{"domain":["C1","C2","C3","C4"],"range":["#d8d8e8","#d8d8e8","#d8d8e8","#0a2a0a"]},"legend":null}}},
{"data":{"name":"chR"},"mark":{"type":"text","align":"left","baseline":"middle","dx":-29,"fontSize":8},"encoding":{"x":{"field":"n","type":"quantitative","scale":{"domain":[0.622,8.549]}},"y":{"datum":-6.42,"scale":{"domain":[-6.81,4.09]}},"text":{"value":"——"},"color":{"field":"ch","type":"nominal","scale":{"domain":["C1","C2","C3","C4"],"range":["#d8d8e8","#d8d8e8","#d8d8e8","#0a2a0a"]},"legend":null}}},
{"data":{"name":"chR"},"mark":{"type":"text","align":"left","baseline":"middle","dx":-29,"fontSize":8.5},"encoding":{"x":{"field":"n","type":"quantitative","scale":{"domain":[0.622,8.549]}},"y":{"datum":-6.66,"scale":{"domain":[-6.81,4.09]}},"text":{"value":"Δy"},"color":{"field":"ch","type":"nominal","scale":{"domain":["C1","C2","C3","C4"],"range":["#d8d8e8","#d8d8e8","#d8d8e8","#0a2a0a"]},"legend":null}}},
{"data":{"name":"acqR"},"mark":{"type":"rect","width":73,"color":"#7373a9"},"encoding":{"x":{"datum":2.86,"scale":{"domain":[-5,5]}},"y":{"datum":-5.19,"scale":{"domain":[-6.81,4.09]}},"y2":{"datum":-6.1}}},
{"data":{"name":"acqR"},"mark":{"type":"rect","width":73,"color":"#cacaca"},"encoding":{"x":{"datum":2.86,"scale":{"domain":[-5,5]}},"y":{"datum":-5.19,"scale":{"domain":[-6.81,4.09]}},"y2":{"datum":-5.38}}},
{"data":{"name":"acqR"},"mark":{"type":"text","align":"left","baseline":"middle","dx":-34,"fontSize":8,"color":"#1a1a1a"},"encoding":{"x":{"datum":2.86,"scale":{"domain":[-5,5]}},"y":{"datum":-5.285,"scale":{"domain":[-6.81,4.09]}},"text":{"field":"tb"}}},
{"data":{"name":"acqR"},"mark":{"type":"text","align":"right","baseline":"middle","dx":34,"fontSize":8,"color":"#1a1a1a"},"encoding":{"x":{"datum":2.86,"scale":{"domain":[-5,5]}},"y":{"datum":-5.285,"scale":{"domain":[-6.81,4.09]}},"text":{"field":"dly"}}},
{"data":{"name":"acqR"},"mark":{"type":"text","align":"right","baseline":"middle","dx":34,"fontSize":8,"color":"#f4f4f4"},"encoding":{"x":{"datum":2.86,"scale":{"domain":[-5,5]}},"y":{"datum":-5.66,"scale":{"domain":[-6.81,4.09]}},"text":{"field":"tdiv"}}},
{"data":{"name":"acqR"},"mark":{"type":"text","align":"left","baseline":"middle","dx":-34,"fontSize":7.5,"color":"#f4f4f4"},"encoding":{"x":{"datum":2.86,"scale":{"domain":[-5,5]}},"y":{"datum":-5.95,"scale":{"domain":[-6.81,4.09]}},"text":{"field":"pts"}}},
{"data":{"name":"acqR"},"mark":{"type":"text","align":"right","baseline":"middle","dx":34,"fontSize":7.5,"color":"#f4f4f4"},"encoding":{"x":{"datum":2.86,"scale":{"domain":[-5,5]}},"y":{"datum":-5.95,"scale":{"domain":[-6.81,4.09]}},"text":{"field":"rate"}}},
{"data":{"name":"acqR"},"mark":{"type":"rect","width":80,"color":"#7373a9"},"encoding":{"x":{"datum":4.35,"scale":{"domain":[-5,5]}},"y":{"datum":-5.19,"scale":{"domain":[-6.81,4.09]}},"y2":{"datum":-6.1}}},
{"data":{"name":"acqR"},"mark":{"type":"rect","width":80,"color":"#cacaca"},"encoding":{"x":{"datum":4.35,"scale":{"domain":[-5,5]}},"y":{"datum":-5.19,"scale":{"domain":[-6.81,4.09]}},"y2":{"datum":-5.38}}},
{"data":{"name":"acqR"},"mark":{"type":"rect","width":24,"xOffset":25,"color":"#111111"},"encoding":{"x":{"datum":4.35,"scale":{"domain":[-5,5]}},"y":{"datum":-5.21,"scale":{"domain":[-6.81,4.09]}},"y2":{"datum":-5.36}}},
{"data":{"name":"acqR"},"mark":{"type":"text","align":"left","baseline":"middle","dx":-37,"fontSize":8,"color":"#1a1a1a"},"encoding":{"x":{"datum":4.35,"scale":{"domain":[-5,5]}},"y":{"datum":-5.285,"scale":{"domain":[-6.81,4.09]}},"text":{"field":"trg"}}},
{"data":{"name":"acqR"},"mark":{"type":"text","align":"center","baseline":"middle","dx":25,"fontSize":6.5,"color":"#d0d0d0"},"encoding":{"x":{"datum":4.35,"scale":{"domain":[-5,5]}},"y":{"datum":-5.29,"scale":{"domain":[-6.81,4.09]}},"text":{"field":"src"}}},
{"data":{"name":"acqR"},"mark":{"type":"text","align":"left","baseline":"middle","dx":-37,"fontSize":8,"color":"#f4f4f4"},"encoding":{"x":{"datum":4.35,"scale":{"domain":[-5,5]}},"y":{"datum":-5.66,"scale":{"domain":[-6.81,4.09]}},"text":{"field":"mode"}}},
{"data":{"name":"acqR"},"mark":{"type":"text","align":"right","baseline":"middle","dx":36,"fontSize":8,"color":"#f4f4f4"},"encoding":{"x":{"datum":4.35,"scale":{"domain":[-5,5]}},"y":{"datum":-5.66,"scale":{"domain":[-6.81,4.09]}},"text":{"field":"lvl"}}},
{"data":{"name":"acqR"},"mark":{"type":"text","align":"left","baseline":"middle","dx":-37,"fontSize":7.5,"color":"#f4f4f4"},"encoding":{"x":{"datum":4.35,"scale":{"domain":[-5,5]}},"y":{"datum":-5.95,"scale":{"domain":[-6.81,4.09]}},"text":{"field":"typ"}}},
{"data":{"name":"acqR"},"mark":{"type":"text","align":"right","baseline":"middle","dx":36,"fontSize":7.5,"color":"#f4f4f4"},"encoding":{"x":{"datum":4.35,"scale":{"domain":[-5,5]}},"y":{"datum":-5.95,"scale":{"domain":[-6.81,4.09]}},"text":{"field":"slope"}}}
]
}
]
}
